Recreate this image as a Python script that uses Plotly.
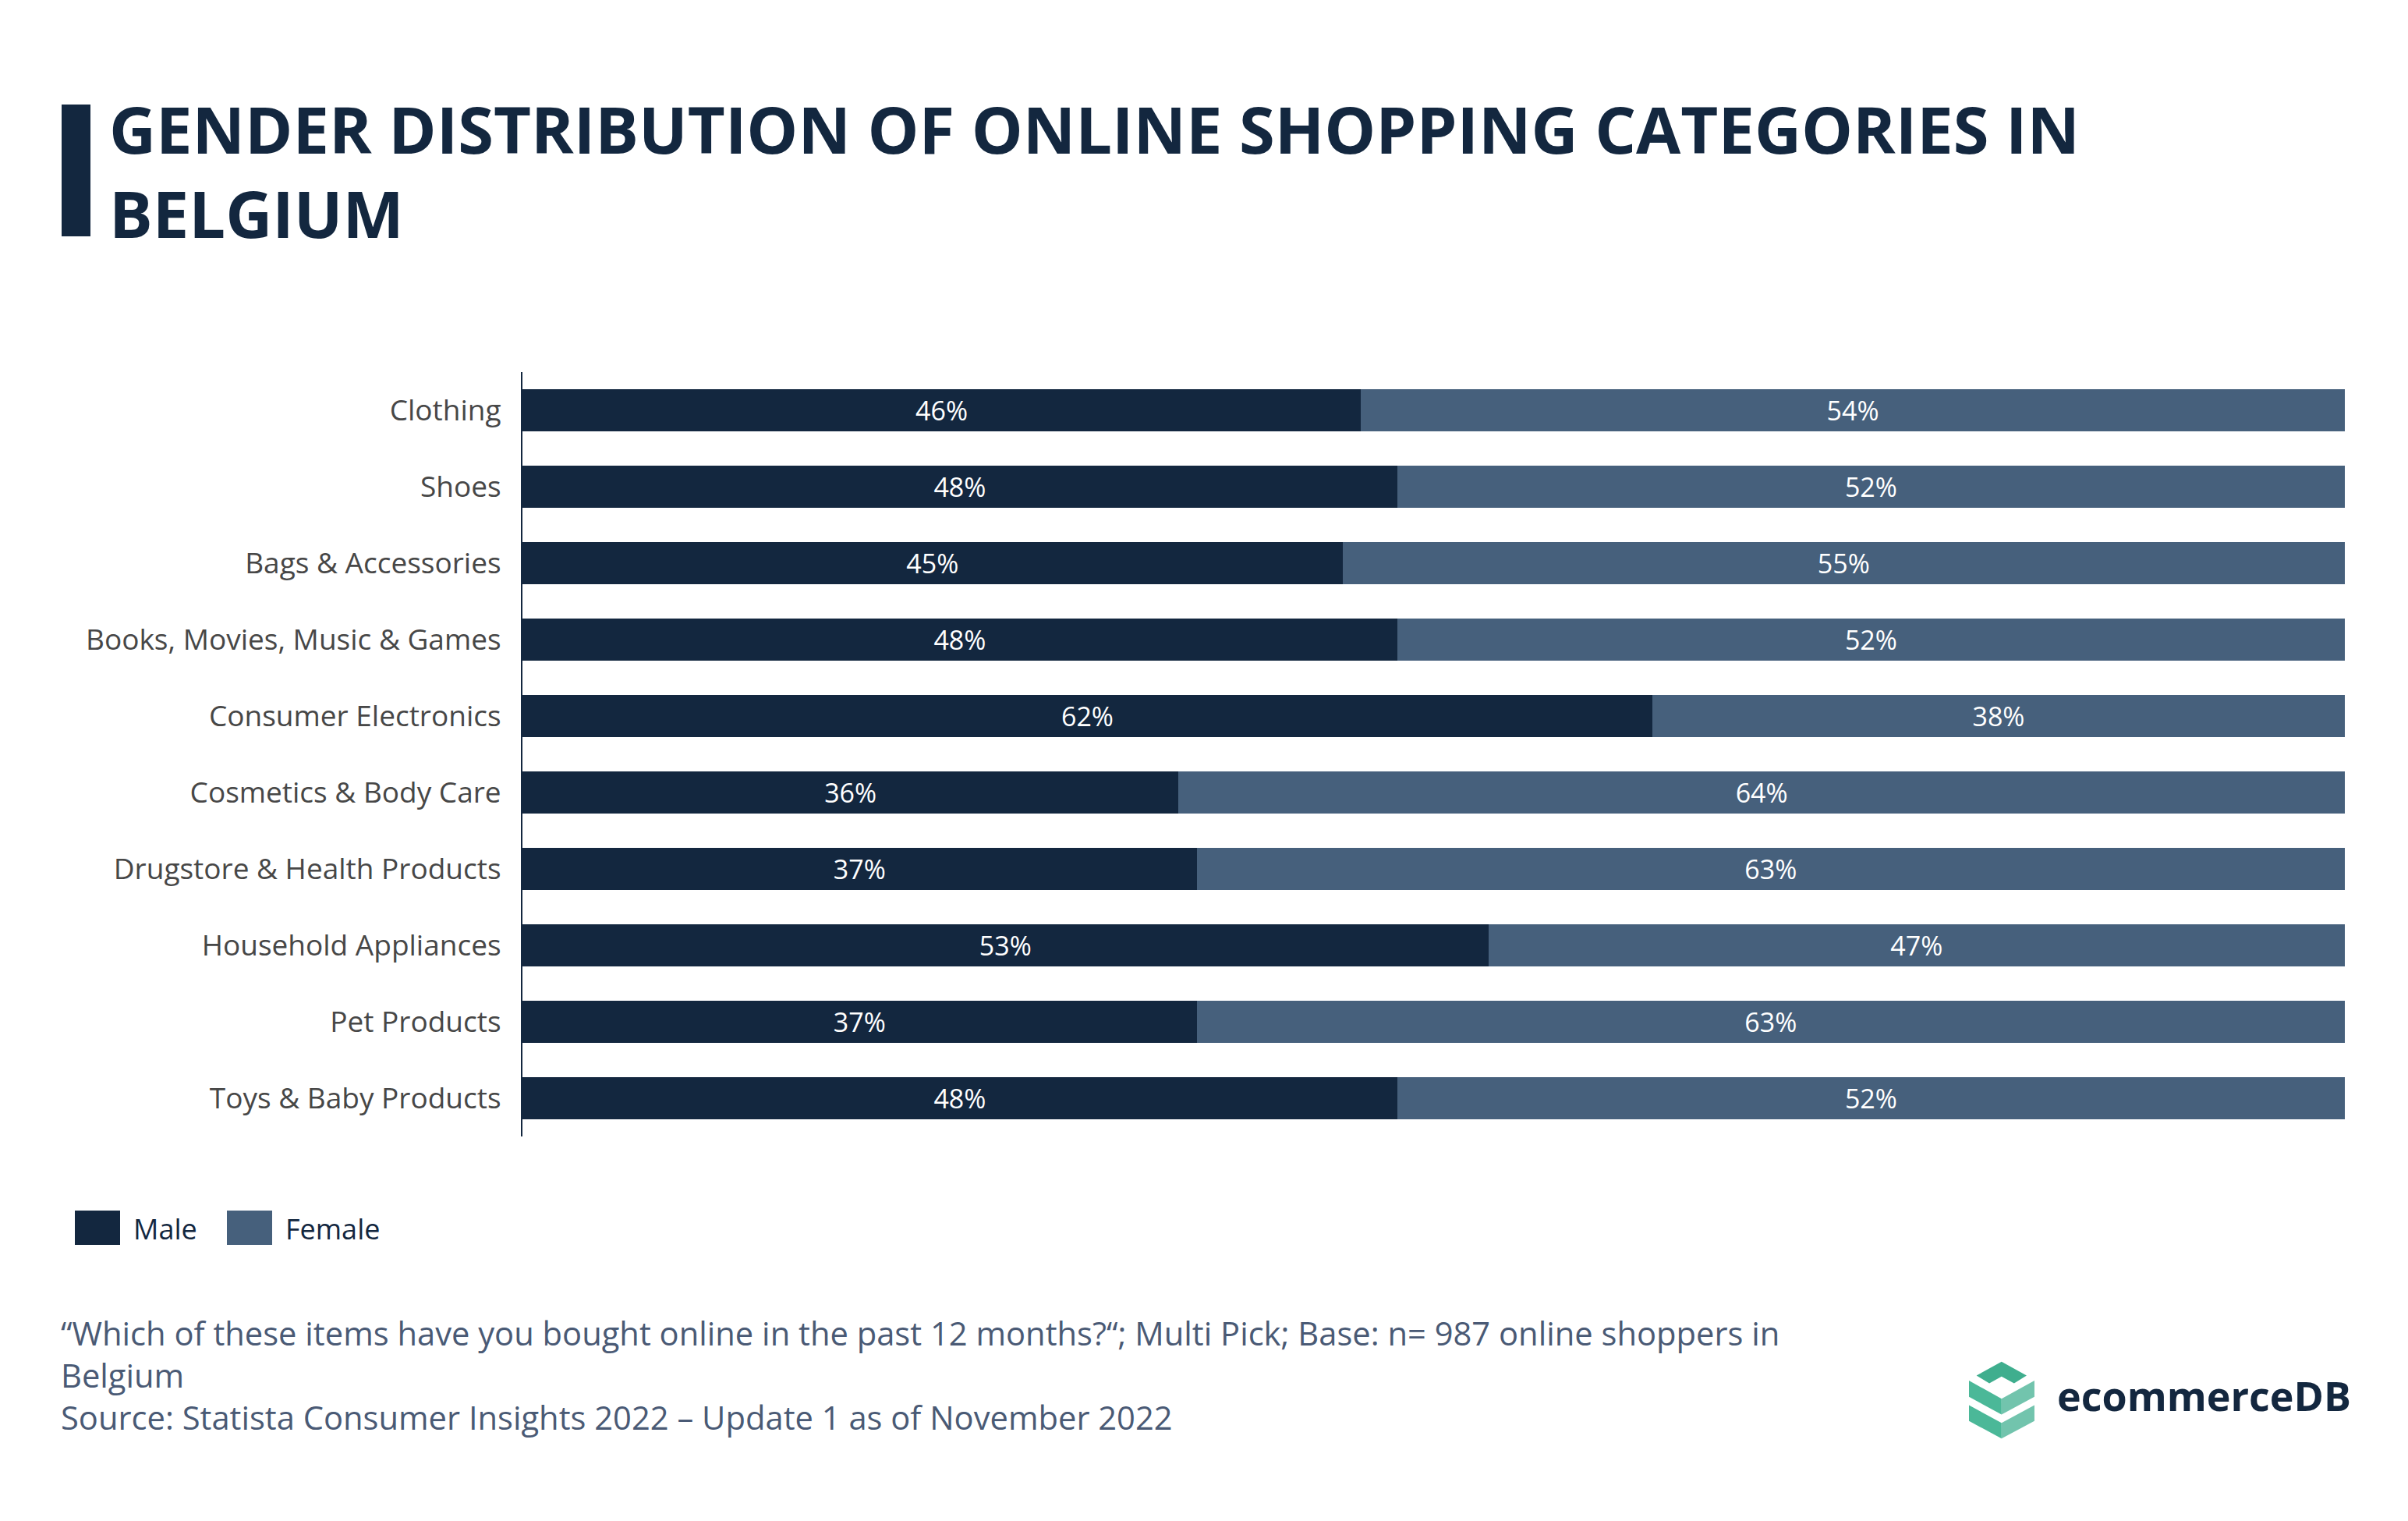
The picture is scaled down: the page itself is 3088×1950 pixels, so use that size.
import plotly.graph_objects as go

categories = ["Clothing", "Shoes", "Bags & Accessories", "Books, Movies, Music & Games",
              "Consumer Electronics", "Cosmetics & Body Care", "Drugstore & Health Products",
              "Household Appliances", "Pet Products", "Toys & Baby Products"]
male = [46, 48, 45, 48, 62, 36, 37, 53, 37, 48]
female = [54, 52, 55, 52, 38, 64, 63, 47, 63, 52]

W, H = 3088, 1950
OFF = 8  # page body margin
MALE_C = "#13273f"
FEMALE_C = "#46607c"
FONT = "Open Sans"

def px(x):
    return (x - OFF) / W

def py(y):
    return 1 - (y - OFF) / H

fig = go.Figure()
fig.add_trace(go.Bar(y=categories, x=male, orientation="h", name="Male",
                     marker=dict(color=MALE_C, line=dict(width=0)),
                     text=[f"{v}%" for v in male], textposition="inside",
                     insidetextanchor="middle",
                     textfont=dict(color="white", size=34, family=FONT)))
fig.add_trace(go.Bar(y=categories, x=female, orientation="h", name="Female",
                     marker=dict(color=FEMALE_C, line=dict(width=0)),
                     text=[f"{v}%" for v in female], textposition="inside",
                     insidetextanchor="middle",
                     textfont=dict(color="white", size=34, family=FONT)))

shapes = []
annotations = []

# title bar
shapes.append(dict(type="rect", xref="paper", yref="paper",
                   x0=px(79), x1=px(116), y0=py(303), y1=py(134),
                   fillcolor=MALE_C, line=dict(width=0)))
annotations.append(dict(xref="paper", yref="paper", x=px(138), y=py(219),
                        xanchor="left", yanchor="middle", showarrow=False, align="left",
                        text="<b>GENDER DISTRIBUTION OF ONLINE SHOPPING CATEGORIES IN<br>BELGIUM</b>",
                        font=dict(family=FONT, size=83, color=MALE_C)))

# legend
for x0, label, col, tx in [(96, "Male", MALE_C, 169), (291, "Female", FEMALE_C, 364)]:
    shapes.append(dict(type="rect", xref="paper", yref="paper",
                       x0=px(x0), x1=px(x0 + 58), y0=py(1596), y1=py(1552),
                       fillcolor=col, line=dict(width=0)))
    annotations.append(dict(xref="paper", yref="paper", x=px(tx), y=py(1575),
                            xanchor="left", yanchor="middle", showarrow=False,
                            text=label, font=dict(family=FONT, size=36, color=MALE_C)))

# footnote
annotations.append(dict(xref="paper", yref="paper", x=px(76), y=py(1678),
                        xanchor="left", yanchor="top", showarrow=False, align="left",
                        text="\u201cWhich of these items have you bought online in the past 12 months?\u201c; Multi Pick; Base: n= 987 online shoppers in<br>Belgium<br>Source: Statista Consumer Insights 2022 \u2013 Update 1 as of November 2022",
                        font=dict(family=FONT, size=41.7, color="#4a5a75")))

# logo
def zp(zx, zy):
    return px(2500 + zx / 2.8), py(1720 + zy / 2.8)

def path(points):
    pts = [zp(a, b) for a, b in points]
    return "M " + " L ".join(f"{x},{y}" for x, y in pts) + " Z"

logo_parts = [
    ([(97, 122), (187, 72), (277, 122), (232, 150), (187, 125), (143, 150)], "#3fae8e"),
    ([(70, 140), (187, 205), (187, 262), (70, 198)], "#4bb898"),
    ([(187, 205), (305, 140), (305, 198), (187, 262)], "#72c4ad"),
    ([(70, 228), (187, 292), (187, 348), (70, 285)], "#4bb898"),
    ([(187, 292), (305, 228), (305, 285), (187, 348)], "#72c4ad"),
]
for pts, col in logo_parts:
    shapes.append(dict(type="path", xref="paper", yref="paper", path=path(pts),
                       fillcolor=col, line=dict(width=0)))
annotations.append(dict(xref="paper", yref="paper", x=px(2636), y=py(1788),
                        xanchor="left", yanchor="middle", showarrow=False,
                        text="<b>ecommerceDB</b>",
                        font=dict(family=FONT, size=52, color=MALE_C)))

fig.update_layout(
    width=W, height=H, barmode="stack", bargap=0.45,
    paper_bgcolor="white", plot_bgcolor="white",
    margin=dict(l=0, r=0, t=0, b=0), showlegend=False,
    font=dict(family=FONT),
    shapes=shapes, annotations=annotations,
    uniformtext=dict(mode="show", minsize=10),
    xaxis=dict(domain=[px(670), px(3007)], range=[0, 100], showgrid=False,
               zeroline=False, showticklabels=False, showline=False, fixedrange=True),
    yaxis=dict(domain=[py(1457), py(477)], autorange="reversed", showgrid=False,
               zeroline=False, showline=True, linecolor=MALE_C, linewidth=2,
               ticks="", ticklabelstandoff=18,
               tickfont=dict(family=FONT, size=37, color="#474747")),
)

fig.write_html("out.html")
